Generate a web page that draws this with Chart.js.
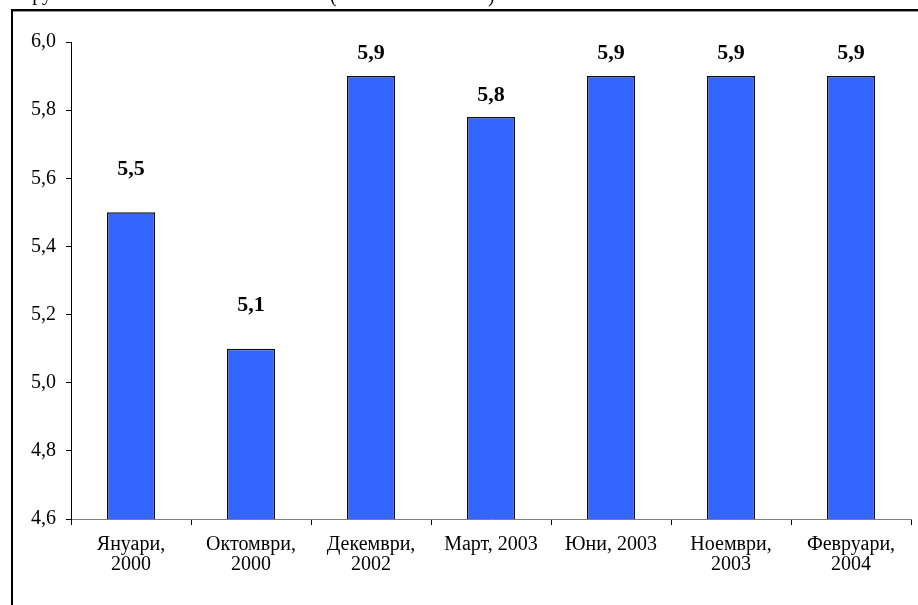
<!DOCTYPE html>
<html>
<head>
<meta charset="utf-8">
<script src="https://cdn.jsdelivr.net/npm/chart.js@4/dist/chart.umd.min.js"></script>
<style>
  html, body { margin: 0; padding: 0; background: #fff; }
  #wrap { width: 918px; height: 605px; position: relative; }
</style>
</head>
<body>
<div id="wrap"><canvas id="barChart" width="918" height="605"></canvas></div>
<script>
const categories = [
  ['Януари,', '2000'],
  ['Октомври,', '2000'],
  ['Декември,', '2002'],
  ['Март, 2003'],
  ['Юни, 2003'],
  ['Ноември,', '2003'],
  ['Февруари,', '2004']
];
const values = [5.5, 5.1, 5.9, 5.78, 5.9, 5.9, 5.9];
const valueLabels = ['5,5', '5,1', '5,9', '5,8', '5,9', '5,9', '5,9'];
const labelGap = [37, 38, 17, 16, 17, 17, 17]; // px above bar top, as placed in the original

const serif = '"Liberation Serif", "Times New Roman", serif';

// outer frame + cut-off caption at the top edge
const framePlugin = {
  id: 'frame',
  beforeDraw(chart) {
    const ctx = chart.ctx;
    ctx.save();
    ctx.fillStyle = '#fff';
    ctx.fillRect(0, 0, chart.width, chart.height);
    ctx.font = '20px ' + serif;
    ctx.fillStyle = '#000';
    ctx.textBaseline = 'alphabetic';
    ctx.fillText('Група', 22, 0);
    ctx.fillText('(', 330, 2);
    ctx.fillText(')', 488, 2);
    ctx.strokeStyle = '#000';
    ctx.lineWidth = 2;
    ctx.beginPath();
    ctx.moveTo(12, 605);
    ctx.lineTo(12, 10);
    ctx.lineTo(918, 10);
    ctx.stroke();
    ctx.strokeStyle = '#999';
    ctx.lineWidth = 1;
    ctx.beginPath();
    ctx.moveTo(13, 11.5);
    ctx.lineTo(918, 11.5);
    ctx.stroke();
    ctx.restore();
  }
};

const valueLabelPlugin = {
  id: 'valueLabels',
  afterDatasetsDraw(chart) {
    const ctx = chart.ctx;
    const meta = chart.getDatasetMeta(0);
    ctx.save();
    ctx.font = 'bold 22px ' + serif;
    ctx.fillStyle = '#000';
    ctx.textAlign = 'center';
    ctx.textBaseline = 'alphabetic';
    meta.data.forEach((bar, i) => {
      ctx.fillText(valueLabels[i], bar.x, bar.y - labelGap[i]);
    });
    ctx.restore();
  }
};

const ctx = document.getElementById('barChart').getContext('2d');
const chart = new Chart(ctx, {
  type: 'bar',
  data: {
    labels: categories,
    datasets: [{
      data: values,
      backgroundColor: '#3366FF',
      borderColor: '#111',
      borderWidth: 1.5,
      barPercentage: 0.4,
      categoryPercentage: 1.0
    }]
  },
  options: {
    responsive: false,
    animation: false,
    layout: { padding: { left: 0, top: 42, right: 7, bottom: 0 } },
    plugins: {
      legend: { display: false },
      tooltip: { enabled: false }
    },
    scales: {
      x: {
        grid: {
          offset: true,
          drawOnChartArea: false,
          drawTicks: true,
          tickLength: 6,
          color: '#000'
        },
        border: { display: true, color: '#808080', width: 1 },
        ticks: {
          color: '#000',
          font: { family: serif, size: 20, lineHeight: 1.0 },
          padding: 10,
          maxRotation: 0,
          autoSkip: false
        },
        afterFit(scale) { scale.height = 86; }
      },
      y: {
        min: 4.6,
        max: 6.0,
        grid: {
          drawOnChartArea: false,
          drawTicks: true,
          tickLength: 5,
          color: '#000'
        },
        border: { display: true, color: '#000', width: 1 },
        ticks: {
          stepSize: 0.2,
          color: '#000',
          font: { family: serif, size: 20 },
          padding: 10,
          callback: v => v.toFixed(1).replace('.', ',')
        },
        afterFit(scale) { scale.width = 71; }
      }
    }
  },
  plugins: [framePlugin, valueLabelPlugin]
});
</script>
</body>
</html>
